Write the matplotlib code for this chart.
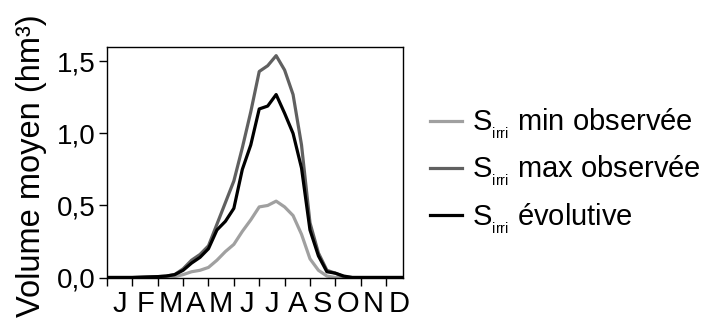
import matplotlib
matplotlib.use("Agg")
import matplotlib.pyplot as plt
import numpy as np

plt.rcParams['font.family'] = ['Liberation Sans', 'DejaVu Sans']
plt.rcParams['mathtext.fontset'] = 'custom'
plt.rcParams['mathtext.rm'] = 'Liberation Sans'
plt.rcParams['mathtext.it'] = 'Liberation Sans'

# dekads (10-day periods), 36 per year
dekads = list(range(36))
s_min = [0, 0, 0, 0, 0, 0, 0.002, 0.004, 0.006, 0.02, 0.04, 0.05, 0.07, 0.12, 0.18, 0.23,
         0.32, 0.40, 0.49, 0.50, 0.53, 0.49, 0.43, 0.30, 0.13, 0.05, 0.01, 0.0, 0, 0,
         0, 0, 0, 0, 0, 0]
s_max = [0, 0, 0, 0, 0.002, 0.004, 0.006, 0.01, 0.02, 0.06, 0.12, 0.16, 0.22, 0.37, 0.52, 0.67,
         0.90, 1.15, 1.43, 1.47, 1.54, 1.44, 1.27, 0.92, 0.38, 0.17, 0.05, 0.03, 0.005, 0,
         0, 0, 0, 0, 0, 0]
s_evol = [0, 0, 0, 0, 0.002, 0.004, 0.006, 0.01, 0.02, 0.05, 0.10, 0.14, 0.20, 0.33, 0.39, 0.48,
          0.75, 0.92, 1.17, 1.19, 1.27, 1.14, 1.00, 0.76, 0.33, 0.15, 0.04, 0.03, 0.01, 0,
          0, 0, 0, 0, 0, 0]
months = ['J', 'F', 'M', 'A', 'M', 'J', 'J', 'A', 'S', 'O', 'N', 'D']
yticks = [0.0, 0.5, 1.0, 1.5]
ytick_labels = ['0,0', '0,5', '1,0', '1,5']
labels = [r'S$_{_{\mathrm{irri}}}$ min observée', r'S$_{_{\mathrm{irri}}}$ max observée',
          r'S$_{_{\mathrm{irri}}}$ évolutive']
colors = ['#a0a0a0', '#606060', '#000000']

fig = plt.figure(figsize=(7.15, 3.25), dpi=100)
ax = fig.add_axes([107/715, 1-277.5/325, 296/715, 230.5/325])

for s, c, l in zip([s_min, s_max, s_evol], colors, labels):
    ax.plot(dekads, s, color=c, lw=2.3, label=l)

ax.set_xlim(0, 35)
ax.set_ylim(0, 1.6)
ax.set_xticks(np.arange(0, 34, 3))
ax.set_xticklabels([])
ax.set_xticks(np.arange(1.5, 36, 3), minor=True)
ax.set_xticklabels(months, minor=True, fontsize=21)
ax.tick_params(axis='x', which='major', direction='out', length=6, width=1)
ax.tick_params(axis='x', which='minor', length=0, pad=9)
ax.set_yticks(yticks)
ax.set_yticklabels(ytick_labels, fontsize=20)
ax.tick_params(axis='y', direction='out', length=6, width=1, pad=2)
for sp in ax.spines.values():
    sp.set_linewidth(1)

fig.text(32/715, 1-166/325, 'Volume moyen (hm³)', rotation=90, ha='center', va='center',
         fontsize=23.5)

ax.legend(loc='upper left', bbox_to_anchor=(1.091, 0.74), frameon=False, fontsize=21,
          handlelength=1.1, handletextpad=0.35, labelspacing=0.45, borderaxespad=0,
          borderpad=0)

fig.savefig('out.png', dpi=100)
